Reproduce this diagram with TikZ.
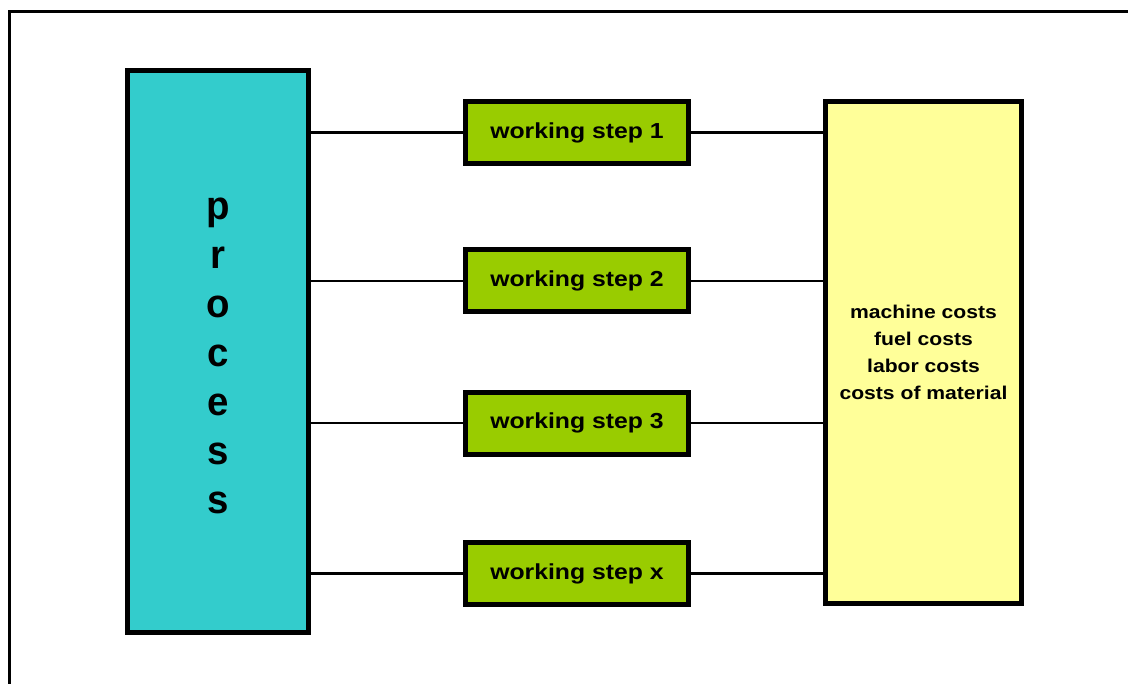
\documentclass[tikz,border=0pt]{standalone}
\usepackage{fontspec}
\setmainfont{Liberation Sans}
\newfontfamily\widefont{Liberation Sans}[FakeStretch=1.14]
\newfontfamily\narrowfont{Liberation Sans}[FakeStretch=0.96]
\usepackage{tikz}
\usetikzlibrary{positioning,calc}
\definecolor{turq}{HTML}{33CCCC}
\definecolor{lima}{HTML}{99CC00}
\definecolor{crema}{HTML}{FFFF99}

\tikzset{
  procbox/.style={draw,fill=turq,line width=3.75pt,minimum width=135.75pt,minimum height=421.5pt,inner sep=0pt,align=center,
    font=\narrowfont\bfseries\fontsize{30}{36.75}\selectfont},
  stepbox/.style={draw,fill=lima,line width=3.75pt,minimum width=167.25pt,minimum height=46.5pt,inner sep=0pt,
    font=\widefont\bfseries\fontsize{16.3}{19}\selectfont},
  costbox/.style={draw,fill=crema,line width=3.75pt,minimum width=147pt,minimum height=376.5pt,inner sep=0pt,align=center,
    font=\widefont\bfseries\fontsize{13.9}{20.25}\selectfont},
  link/.style={line width=1.9pt}
}

\begin{document}
\begin{tikzpicture}[x=0.75pt,y=-0.75pt]
        \useasboundingbox (0,0) rectangle (1128,684);
        \draw[line width=2.25pt] (9.5,684) -- (9.5,11.5) -- (1128,11.5);
        \node[procbox] (proc) at (218,351.5) {\rule{0pt}{23pt}p\\r\\o\\c\\e\\s\\s};
        \node[costbox] (costs) at (923.5,352.5) {machine costs\\fuel costs\\labor costs\\costs of material};
        \foreach \yy/\lbl/\nm in {132.5/1/s1,281/2/s2,423/3/s3,573.5/x/sx}{
          \node[stepbox] (\nm) at (577,\yy) {working step \lbl};
          \draw[link] (proc.east |- \nm) -- (\nm.west);
          \draw[link] (\nm.east) -- (costs.west |- \nm);
        }
      \end{tikzpicture}
\end{document}
